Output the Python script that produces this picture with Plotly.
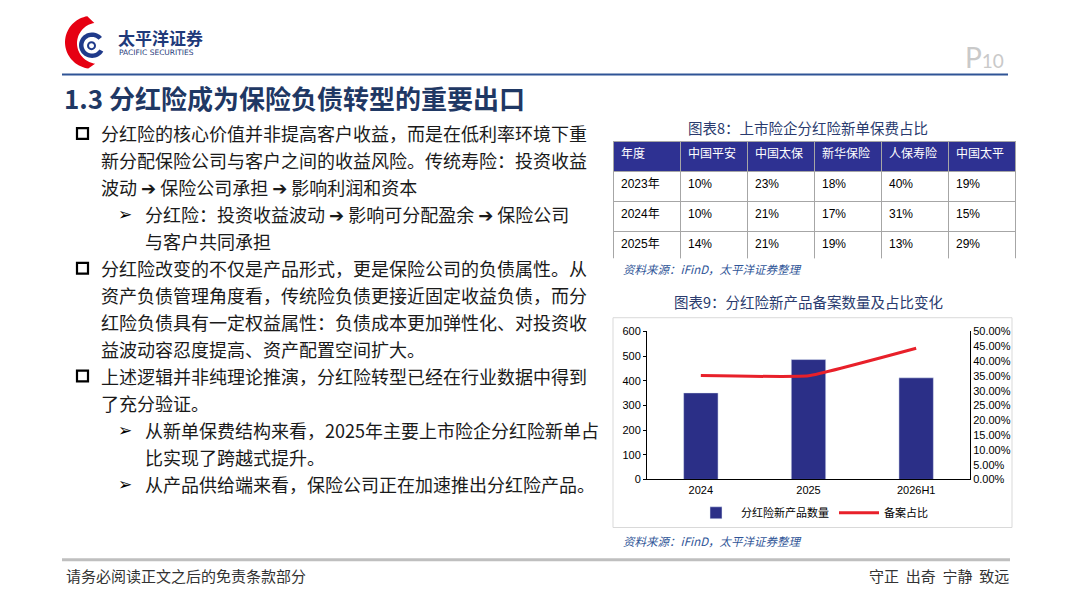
import numpy as np
import plotly.graph_objects as go

W, H = 1080, 608

# =========================
# DATA
# =========================

# 图表8 table
tbl_header = ["年度", "中国平安", "中国太保", "新华保险", "人保寿险", "中国太平"]
tbl_years = ["2023年", "2024年", "2025年"]
pingan = [10, 10, 14]
cpic = [23, 21, 21]
nci = [18, 17, 19]
picc_life = [40, 31, 13]
taiping = [19, 15, 29]

# 图表9 chart
periods = ["2024", "2025", "2026H1"]
product_counts = [351, 486, 412]
filing_share = [0.351, 0.350, 0.443]

# left column text
bullet_lines = [
    ("main", "分红险的核心价值并非提高客户收益，而是在低利率环境下重"),
    ("cont", "新分配保险公司与客户之间的收益风险。传统寿险：投资收益"),
    ("cont", "波动 ➔ 保险公司承担 ➔ 影响利润和资本"),
    ("sub", "分红险：投资收益波动 ➔ 影响可分配盈余 ➔ 保险公司"),
    ("subcont", "与客户共同承担"),
    ("main", "分红险改变的不仅是产品形式，更是保险公司的负债属性。从"),
    ("cont", "资产负债管理角度看，传统险负债更接近固定收益负债，而分"),
    ("cont", "红险负债具有一定权益属性：负债成本更加弹性化、对投资收"),
    ("cont", "益波动容忍度提高、资产配置空间扩大。"),
    ("main", "上述逻辑并非纯理论推演，分红险转型已经在行业数据中得到"),
    ("cont", "了充分验证。"),
    ("sub", "从新单保费结构来看，2025年主要上市险企分红险新单占"),
    ("subcont", "比实现了跨越式提升。"),
    ("sub", "从产品供给端来看，保险公司正在加速推出分红险产品。"),
]

NAVY = "#1F3864"
BAR = "#2B2F87"
RED = "#E8202A"
SRC = "#2F5597"
CJK = "Noto Sans CJK SC, DejaVu Sans"
LAT = "Liberation Sans, Arial"


def px(x):
    return x / W


def py(y):
    return 1 - y / H


fig = go.Figure()

# =========================
# TABLE (图表8)
# =========================

cells = [tbl_years] + [[f"{v}%" for v in col] for col in (pingan, cpic, nci, picc_life, taiping)]

fig.add_trace(go.Table(
    domain=dict(x=[px(613), px(1015)], y=[py(258), py(138)]),
    columnwidth=[1] * 6,
    header=dict(
        values=tbl_header,
        fill_color="#2E3192",
        line=dict(color="#A6A6A6", width=1),
        font=dict(family=CJK, size=12, color="white"),
        align="left",
        height=30,
    ),
    cells=dict(
        values=cells,
        fill_color="white",
        line=dict(color="#A6A6A6", width=1),
        font=dict(family=LAT + ", " + CJK, size=12, color="black"),
        align="left",
        height=30,
    ),
))

# =========================
# BAR + LINE (图表9)
# =========================

fig.add_trace(go.Bar(
    x=periods, y=product_counts, name="分红险新产品数量",
    marker_color=BAR, width=0.32, yaxis="y",
))

fig.add_trace(go.Scatter(
    x=periods, y=filing_share, name="备案占比", mode="lines",
    line=dict(color=RED, width=3, shape="spline", smoothing=0.3),
    yaxis="y2",
))

axis_font = dict(family=LAT, size=11, color="black")

fig.update_layout(
    width=W, height=H,
    margin=dict(l=0, r=0, t=0, b=0),
    paper_bgcolor="white", plot_bgcolor="white",
    showlegend=True,
    legend=dict(
        orientation="h", x=px(812), xanchor="center", y=py(517), yanchor="middle",
        font=dict(family=CJK, size=11, color="black"),
        bgcolor="rgba(0,0,0,0)", itemwidth=40,
    ),
    xaxis=dict(
        domain=[px(647), px(970)],
        anchor="y",
        showline=True, linecolor="black", linewidth=1,
        ticks="", tickfont=axis_font, showgrid=False,
    ),
    yaxis=dict(
        domain=[py(483), py(332)],
        range=[0, 600], dtick=100,
        showline=True, linecolor="black", linewidth=1,
        ticks="outside", ticklen=3, tickcolor="black",
        tickfont=axis_font, showgrid=False, zeroline=False,
    ),
    yaxis2=dict(
        overlaying="y", side="right", anchor="x",
        range=[0, 0.5], dtick=0.05, tickformat=".2%",
        showline=True, linecolor="black", linewidth=1,
        ticks="", tickfont=axis_font, showgrid=False, zeroline=False,
    ),
)

# =========================
# TEXT
# =========================

anns = []


def ann(text, x, y, size, color="#1A1A1A", family=CJK, xanchor="left", yanchor="middle"):
    anns.append(dict(
        text=text, x=px(x), y=py(y), xref="paper", yref="paper",
        xanchor=xanchor, yanchor=yanchor, showarrow=False,
        font=dict(family=family, size=size, color=color),
    ))


# logo text
ann("<b>太平洋证券</b>", 116, 32, 17, color="#1F3A7A")
ann("PACIFIC SECURITIES", 117, 47, 7.5, color="#1F3A7A", family="DejaVu Sans")

# page number
ann("P<span style='font-size:19px'>10</span>", 1006, 52, 28, color="#C9C9C9",
    family="Lato, " + LAT, xanchor="right")

# section title
ann("<b>1.3 分红险成为保险负债转型的重要出口</b>", 62, 93, 26, color=NAVY)

# left bullets
shapes = []
line_y0, line_gap = 130, 27.5
for i, (kind, txt) in enumerate(bullet_lines):
    y = line_y0 + i * line_gap
    if kind == "main":
        shapes.append(dict(type="rect", xref="paper", yref="paper",
                           x0=px(77), x1=px(88), y0=py(y + 5.5), y1=py(y - 5.5),
                           line=dict(color="black", width=2.2)))
        ann(txt, 99, y, 18)
    elif kind == "cont":
        ann(txt, 99, y, 18)
    elif kind == "sub":
        ann("<b>➢</b>", 116, y, 17, color="black", family="DejaVu Sans")
        ann(txt, 143, y, 18)
    else:
        ann(txt, 143, y, 18)

# chart titles and sources
ann("图表8：上市险企分红险新单保费占比", 808, 124, 14.5, color="#2A3B6E", xanchor="center")
ann("<i>资料来源：iFinD，太平洋证券整理</i>", 621, 268, 11.5, color=SRC)
ann("图表9：分红险新产品备案数量及占比变化", 808, 301, 14.5, color="#2A3B6E", xanchor="center")
ann("<i>资料来源：iFinD，太平洋证券整理</i>", 621, 546, 11.5, color=SRC)

# footer
ann("请务必阅读正文之后的免责条款部分", 64, 581, 15, color="#333333")
ann("守正  出奇  宁静  致远", 1011, 581, 15, color="#333333", xanchor="right")

fig.update_layout(annotations=anns)

# =========================
# SHAPES (lines, panel, logo)
# =========================

shapes += [
    dict(type="line", xref="paper", yref="paper", x0=px(62), x1=px(1008), y0=py(70), y1=py(70),
         line=dict(color="#2F5496", width=2)),
    dict(type="line", xref="paper", yref="paper", x0=px(62), x1=px(1010), y0=py(565), y1=py(565),
         line=dict(color="#BFBFBF", width=3)),
    dict(type="rect", xref="paper", yref="paper", x0=px(613), x1=px(1012), y0=py(532), y1=py(318),
         line=dict(color="#D9D9D9", width=1)),
]


def poly_path(pts):
    return "M " + " L ".join(f"{px(a):.5f},{py(b):.5f}" for a, b in pts) + " Z"


# red crescent of the logo
ang_o = np.radians(np.linspace(100, 262, 40))
ang_i = ang_o[::-1]
outer = [(92 + 27 * np.cos(t), 37 - 27 * np.sin(t)) for t in ang_o]
inner = [(98 + 21 * np.cos(t), 38 - 21 * np.sin(t)) for t in ang_i]
shapes.append(dict(type="path", xref="paper", yref="paper", path=poly_path(outer + inner),
                   fillcolor="#E60012", line=dict(width=0)))

# blue ring of the logo
ang_r = np.radians(np.linspace(40, 330, 40))
ring_o = [(92 + 13 * np.cos(t), 40 - 13 * np.sin(t)) for t in ang_r]
ring_i = [(92 + 8.5 * np.cos(t), 40 - 8.5 * np.sin(t)) for t in ang_r[::-1]]
shapes.append(dict(type="path", xref="paper", yref="paper", path=poly_path(ring_o + ring_i),
                   fillcolor="#1F3A8A", line=dict(width=0)))
shapes.append(dict(type="circle", xref="paper", yref="paper",
                   x0=px(88), x1=px(95), y0=py(44), y1=py(37),
                   line=dict(color="#1F3A8A", width=2)))

fig.update_layout(shapes=shapes)

# page has a default 8px body margin; drop it so the figure sits at the window corner
fig.write_html("out.html", config={"displayModeBar": False},
               post_script="document.body.style.margin = '0';")
